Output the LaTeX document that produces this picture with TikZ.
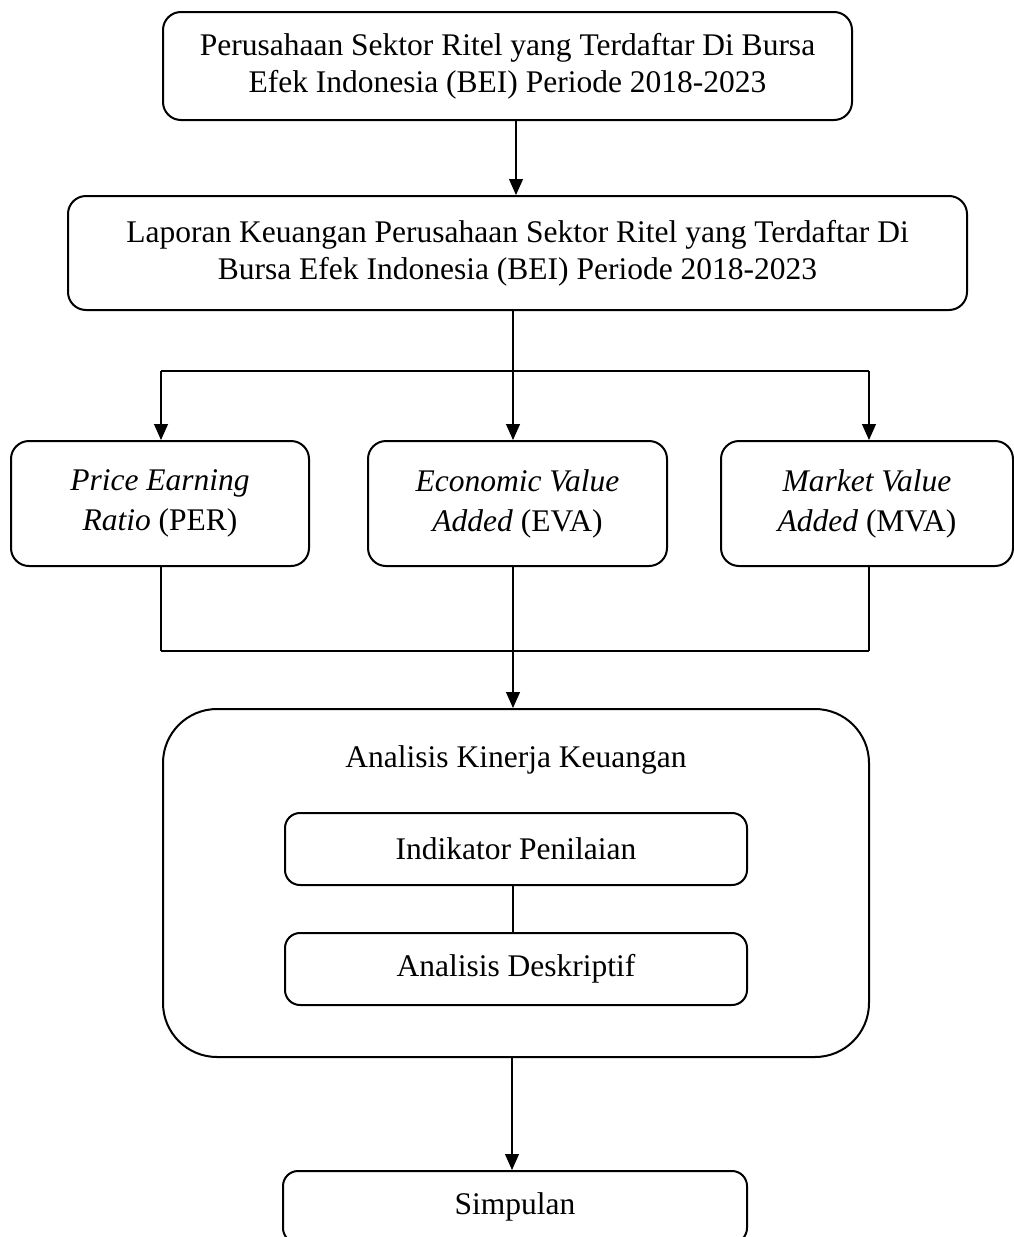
\documentclass[tikz,border=0pt]{standalone}
\usepackage{fontspec}
\setmainfont{Liberation Serif}
\usetikzlibrary{arrows.meta}
\begin{document}
\begin{tikzpicture}[x=1pt,y=-1pt,
  box/.style={draw, line width=2pt, rounded corners=18pt, align=center, inner sep=0pt,
    font=\fontsize{31.5}{37}\selectfont},
  conn/.style={line width=1.1pt},
  arr/.style={line width=1.1pt, -{Triangle[width=14pt,length=16pt]}}]
\useasboundingbox (0,0) rectangle (1014,1237);
\fill[white] (0,0) rectangle (1014,1237);
% columns
\coordinate (cL) at (161,0);
\coordinate (cM) at (513,0);
\coordinate (cR) at (869,0);
% nodes
\node[box, minimum width=689pt, minimum height=108pt] (top) at (507.5,66)
  {Perusahaan Sektor Ritel yang Terdaftar Di Bursa\\Efek Indonesia (BEI) Periode 2018-2023};
\node[box, minimum width=899pt, minimum height=114pt] (lap) at (517.5,253)
  {Laporan Keuangan Perusahaan Sektor Ritel yang Terdaftar Di\\Bursa Efek Indonesia (BEI) Periode 2018-2023};
\node[box, minimum width=298pt, minimum height=125pt] (per) at (160,503.5)
  {\textit{Price Earning}\\[3pt]\textit{Ratio} (PER)};
\node[box, minimum width=299pt, minimum height=125pt] (eva) at (517.5,503.5)
  {\textit{Economic Value}\\[3pt]\textit{Added} (EVA)};
\node[box, minimum width=292pt, minimum height=125pt] (mva) at (867,503.5)
  {\textit{Market Value}\\[3pt]\textit{Added} (MVA)};
\node[box, rounded corners=54pt, minimum width=706pt, minimum height=348pt] (ana) at (516,883) {};
\node[font=\fontsize{31.5}{37}\selectfont, anchor=base] (anat) at (516,767) {Analisis Kinerja Keuangan};
\node[box, rounded corners=15pt, minimum width=462pt, minimum height=72pt] (ind) at (516,849)
  {Indikator Penilaian};
\node[box, rounded corners=15pt, minimum width=462pt, minimum height=72pt] (des) at (516,969)
  {Analisis Deskriptif};
\node[box, rounded corners=15pt, minimum width=464pt, minimum height=72pt] (sim) at (515,1207)
  {Simpulan};
% connectors
\draw[arr] (top.south -| cM) ++(3,0) coordinate (t1) -- (t1 |- lap.north);
\draw[conn] (lap.south -| cM) -- (cM |- 0,371) coordinate (j1);
\draw[conn] (cL |- j1) -- (cR |- j1);
\draw[arr] (cL |- j1) -- (cL |- per.north);
\draw[arr] (j1) -- (cM |- eva.north);
\draw[arr] (cR |- j1) -- (cR |- mva.north);
\draw[conn] (per.south -| cL) -- (cL |- 0,651) coordinate (j2);
\draw[conn] (mva.south -| cR) -- (cR |- j2);
\draw[conn] (j2) -- (cR |- j2);
\draw[arr] (eva.south -| cM) -- (cM |- ana.north);
\draw[conn] (ind.south -| cM) -- (cM |- des.north);
\draw[arr] (ana.south -| cM) ++(-1,0) coordinate (t2) -- (t2 |- sim.north);
\end{tikzpicture}
\end{document}
